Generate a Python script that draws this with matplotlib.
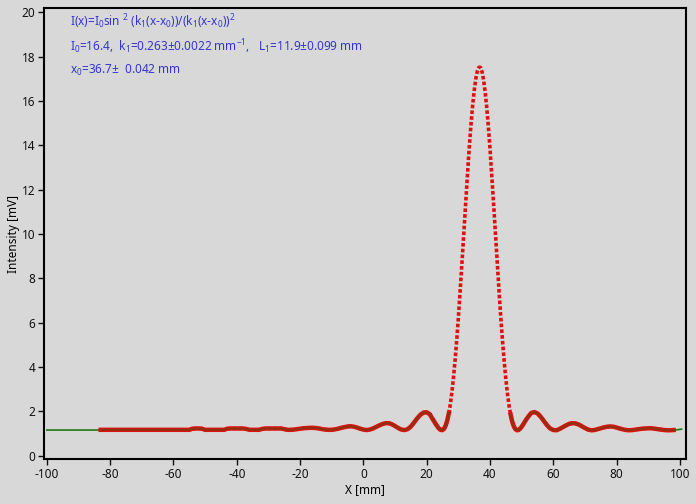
import numpy as np
import matplotlib
matplotlib.use("Agg")
import matplotlib.pyplot as plt

x_left = np.arange(-83, 22, 1.0)
y_left = [1.16, 1.16, 1.16, 1.16, 1.16, 1.16, 1.16, 1.16, 1.16, 1.16,
          1.16, 1.16, 1.16, 1.16, 1.16, 1.16, 1.16, 1.16, 1.16, 1.16,
          1.16, 1.16, 1.16, 1.16, 1.16, 1.16, 1.16, 1.16, 1.16,
          1.21, 1.22, 1.22, 1.21,
          1.16, 1.16, 1.16, 1.16, 1.16, 1.16, 1.16,
          1.21, 1.22, 1.22, 1.22, 1.22, 1.22, 1.20,
          1.16, 1.16, 1.16, 1.16,
          1.20, 1.22, 1.22, 1.22, 1.22, 1.22, 1.22, 1.19,
          1.16, 1.16,
          1.17, 1.19, 1.21, 1.23, 1.24, 1.25, 1.25, 1.24, 1.22, 1.19,
          1.17, 1.16, 1.16, 1.18, 1.21, 1.25, 1.28, 1.31, 1.32, 1.30,
          1.26, 1.21, 1.17, 1.15, 1.17, 1.22, 1.29, 1.36, 1.42, 1.46,
          1.46, 1.41, 1.33, 1.24, 1.17, 1.15, 1.19, 1.31, 1.49, 1.68,
          1.84, 1.94, 1.95, 1.86]

x_mid = np.arange(21.5, 52.5, 0.5)
y_mid = [1.73, 1.62, 1.50, 1.39, 1.28, 1.20, 1.15, 1.15,
         1.21, 1.36, 1.59, 1.92, 2.36, 2.92, 3.59, 4.37, 5.25, 6.23,
         7.29, 8.40, 9.55, 10.72, 11.87, 12.97, 14.02, 14.97, 15.79, 16.47,
         17.00, 17.35, 17.52, 17.51, 17.30, 16.91, 16.35, 15.64, 14.79, 13.82,
         12.76, 11.64, 10.48, 9.32, 8.17, 7.07, 6.03, 5.07, 4.21, 3.45,
         2.80, 2.26, 1.85, 1.53, 1.32, 1.19, 1.14, 1.15, 1.21, 1.30,
         1.41, 1.53, 1.64, 1.74]

x_right = np.arange(53, 99, 1.0)
y_right = [1.92, 1.96, 1.90, 1.75, 1.56, 1.37, 1.22, 1.15, 1.14, 1.20,
           1.28, 1.36, 1.43, 1.46, 1.45, 1.40, 1.32, 1.24, 1.17, 1.14,
           1.15, 1.19, 1.23, 1.27, 1.30, 1.31, 1.30, 1.26, 1.22, 1.18,
           1.15, 1.14, 1.15, 1.17, 1.19, 1.21, 1.22, 1.23, 1.23, 1.21,
           1.19, 1.17, 1.15, 1.14, 1.14, 1.15]

# fit curve runs a bit further than the data on both ends
fit_x_start = [-100, -84]
fit_y_start = [1.15, 1.15]
fit_x_end = [99, 100.5]
fit_y_end = [1.16, 1.19]

fit_text = [
    r"I(x)=I$_0$sin $^2$ (k$_1$(x-x$_0$))/(k$_1$(x-x$_0$))$^2$",
    r"I$_0$=16.4,  k$_1$=0.263±0.0022 mm$^{-1}$,   L$_1$=11.9±0.099 mm",
    r"x$_0$=36.7±  0.042 mm",
]

x_data = np.concatenate([x_left, x_mid, x_right])
y_data = np.concatenate([y_left, y_mid, y_right])
x_fit = np.concatenate([fit_x_start, x_data, fit_x_end])
y_fit = np.concatenate([fit_y_start, y_data, fit_y_end])

# points are dense where the curve is flat -> looks solid there
y_flat = np.where(y_data < 2.1, y_data, np.nan)
y_fit_flat = np.where(y_fit < 2.1, y_fit, np.nan)

plt.rcParams['font.family'] = ['Noto Sans', 'DejaVu Sans']
plt.rcParams['mathtext.fontset'] = 'custom'
plt.rcParams['mathtext.rm'] = 'Noto Sans'
plt.rcParams['mathtext.it'] = 'Noto Sans'
plt.rcParams['axes.unicode_minus'] = False

bg = "#d8d8d8"
fig = plt.figure(figsize=(6.96, 5.04), dpi=100, facecolor=bg)
ax = fig.add_axes([0.0628, 0.0887, 0.9228, 0.8948], facecolor=bg)

ax.plot(x_fit, y_fit_flat, color="#1a7a10", lw=1.2, zorder=2)
ax.plot(x_data, y_data, color="#e01010", lw=2.6, dashes=(1.0, 0.6),
        zorder=3)
ax.plot(x_data, y_flat, color="#e01010", lw=3.2, zorder=3)
# fit shows through the data as a darker core
ax.plot(x_data, y_flat, color="#206010", lw=1.4, alpha=0.45, zorder=4)

ax.set_xlim(-101.0, 101.9)
ax.set_ylim(-0.17, 20.18)
ax.set_xticks(np.arange(-100, 101, 20))
ax.set_yticks(np.arange(0, 21, 2))
ax.tick_params(direction="out", length=4, width=1, labelsize=8.5, pad=2,
               colors="#111111")
for s in ax.spines.values():
    s.set_linewidth(1.5)
    s.set_color("black")

ax.set_xlabel("X [mm]", fontsize=8.5, labelpad=2)
ax.set_ylabel("Intensity [mV]", fontsize=8.5, labelpad=1)

for i, t in enumerate(fit_text):
    ax.text(-92.7, 19.56 - 1.09 * i, t, color="#3535d0", fontsize=8.5,
            va="center", ha="left")

fig.savefig("out.png", dpi=100, facecolor=bg)
